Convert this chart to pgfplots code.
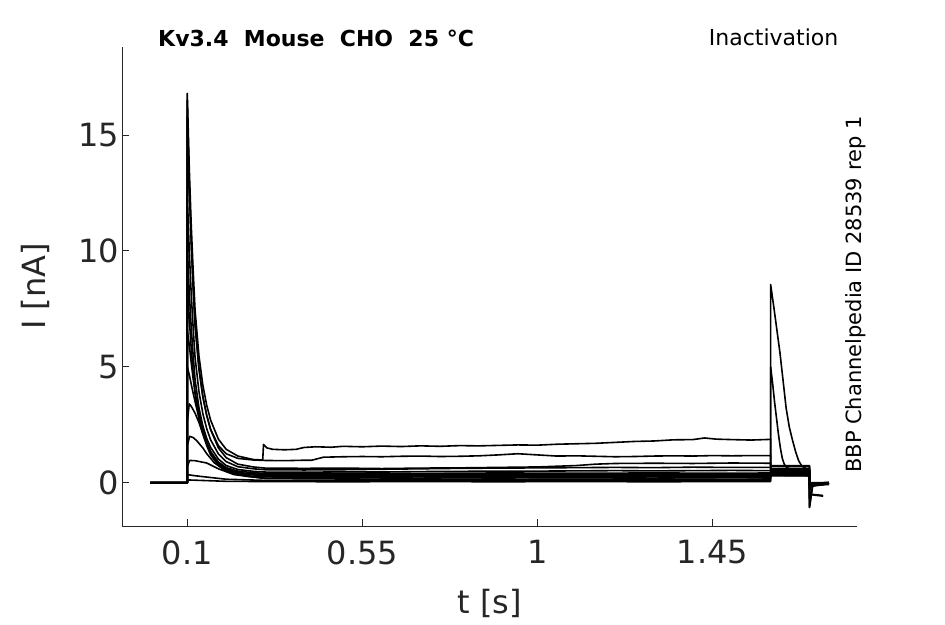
\documentclass[border=0pt]{standalone}
\usepackage{fontspec}
\setmainfont{DejaVu Sans}
\usepackage{pgfplots}
\pgfplotsset{compat=1.18}
\definecolor{axgray}{gray}{0.15}
\begin{document}
\begin{tikzpicture}[x=1pt,y=1pt]
\path[use as bounding box] (0,0) rectangle (945,624);
\begin{axis}[
  at={(122.3pt,98pt)}, anchor=south west, scale only axis,
  width=734.4pt, height=479pt,
  xmin=-0.0671, xmax=1.8213, ymin=-1.868, ymax=18.80,
  axis x line*=bottom, axis y line*=left,
  axis line style={-, draw=axgray, line width=1pt},
  tick align=inside, major tick length=7pt,
  tick style={axgray, line width=1pt},
  xtick={0.1,0.55,1,1.45}, ytick={0,5,10,15},
  minor tick num=0,
  /pgf/number format/assume math mode=true,
  ticklabel style={font=\fontsize{32}{38}\selectfont, text=axgray},
  xticklabel style={yshift=-11pt},
  xlabel={t [s]}, ylabel={I [nA]},
  label style={font=\fontsize{32}{38}\selectfont, text=axgray},
  xlabel style={at={(axis description cs:0.5,-0.1817)}, anchor=base},
  ylabel style={at={(axis description cs:-0.1048,0.5)}, anchor=base},
  every axis plot post/.append style={black, solid, line width=1.6pt, mark=none, line join=round},
  clip=false,
]
% T1
\addplot coordinates {(0.005,0)(0.1,0)(0.1,16.8)(0.105,13.63)(0.11,11.18)(0.115,9.20)(0.12,7.45)(0.13,5.47)(0.14,4.21)(0.15,3.34)(0.16,2.70)(0.18,1.88)(0.2,1.44)(0.23,1.15)(0.27,1.0)(0.294,0.98)(0.296,1.65)(0.305,1.5)(0.32,1.44)(0.35,1.42)(0.38,1.44)(0.4,1.52)(0.43,1.55)(0.47,1.53)(0.5,1.57)(0.55,1.55)(0.6,1.58)(0.65,1.56)(0.7,1.59)(0.75,1.57)(0.8,1.6)(0.85,1.59)(0.9,1.61)(0.95,1.63)(1.0,1.62)(1.05,1.66)(1.1,1.68)(1.15,1.7)(1.2,1.74)(1.25,1.78)(1.3,1.8)(1.35,1.85)(1.4,1.86)(1.43,1.93)(1.46,1.88)(1.5,1.86)(1.55,1.84)(1.6,1.87)(1.6,0.72)(1.65,0.7)(1.7,0.7)(1.7,-0.3)(1.706,-0.1)(1.75,-0.08)};
% T2
\addplot coordinates {(0.005,0)(0.1,0)(0.1,16.5)(0.105,12.9)(0.11,10.4)(0.115,8.4)(0.12,6.8)(0.13,4.9)(0.14,3.7)(0.15,2.9)(0.16,2.3)(0.18,1.6)(0.2,1.25)(0.23,1.05)(0.27,0.98)(0.3,0.96)(0.35,0.95)(0.4,0.97)(0.42,0.97)(0.45,1.1)(0.5,1.12)(0.55,1.13)(0.6,1.12)(0.65,1.14)(0.7,1.15)(0.75,1.13)(0.8,1.14)(0.85,1.16)(0.9,1.2)(0.95,1.25)(1.0,1.2)(1.05,1.15)(1.1,1.16)(1.15,1.14)(1.2,1.12)(1.25,1.13)(1.3,1.15)(1.35,1.16)(1.4,1.15)(1.45,1.17)(1.5,1.16)(1.55,1.17)(1.6,1.17)(1.6,0.62)(1.7,0.6)(1.7,-0.65)(1.705,-0.5)(1.735,-0.55)};
% T3
\addplot coordinates {(0.005,0)(0.1,0)(0.1,15.8)(0.105,12.76)(0.11,10.41)(0.115,8.51)(0.12,6.84)(0.13,4.95)(0.14,3.73)(0.15,2.90)(0.16,2.29)(0.18,1.50)(0.2,1.08)(0.23,0.80)(0.27,0.68)(0.3,0.63)(0.4,0.62)(0.5,0.63)(0.6,0.61)(0.7,0.63)(0.8,0.64)(0.9,0.66)(1.0,0.68)(1.1,0.74)(1.15,0.8)(1.2,0.83)(1.3,0.84)(1.4,0.83)(1.5,0.85)(1.6,0.84)(1.6,0.74)(1.7,0.73)(1.7,-0.2)(1.706,-0.05)(1.75,-0.03)};
% T4
\addplot coordinates {(0.005,0)(0.1,0)(0.1,12.4)(0.105,10.03)(0.11,8.19)(0.115,6.71)(0.12,5.41)(0.13,3.93)(0.14,2.98)(0.15,2.33)(0.16,1.85)(0.18,1.24)(0.2,0.91)(0.23,0.69)(0.27,0.6)(0.3,0.56)(0.4,0.55)(0.5,0.56)(0.6,0.58)(0.7,0.6)(0.8,0.62)(0.9,0.63)(1.0,0.64)(1.1,0.65)(1.2,0.66)(1.3,0.65)(1.4,0.67)(1.5,0.66)(1.6,0.66)(1.6,0.55)(1.7,0.55)(1.7,-0.7)(1.705,-0.52)(1.735,-0.58)};
% T5
\addplot coordinates {(0.005,0)(0.1,0)(0.1,10.2)(0.105,8.25)(0.11,6.74)(0.115,5.52)(0.12,4.45)(0.13,3.23)(0.14,2.45)(0.15,1.91)(0.16,1.52)(0.18,1.02)(0.2,0.74)(0.23,0.57)(0.27,0.49)(0.3,0.46)(0.4,0.45)(0.5,0.47)(0.6,0.46)(0.7,0.48)(0.8,0.49)(0.9,0.5)(1.0,0.5)(1.1,0.51)(1.2,0.52)(1.3,0.51)(1.4,0.52)(1.5,0.53)(1.6,0.52)(1.6,0.5)(1.7,0.48)(1.7,-0.25)(1.706,-0.05)(1.75,-0.02)};
% T6
\addplot coordinates {(0.005,0)(0.1,0)(0.1,8.8)(0.105,7.12)(0.11,5.82)(0.115,4.77)(0.12,3.84)(0.13,2.79)(0.14,2.12)(0.15,1.66)(0.16,1.32)(0.18,0.89)(0.2,0.65)(0.23,0.5)(0.27,0.43)(0.3,0.4)(0.5,0.41)(0.7,0.4)(0.9,0.42)(1.1,0.41)(1.3,0.42)(1.5,0.41)(1.6,0.42)(1.6,0.45)(1.7,0.45)(1.7,-0.2)(1.706,-0.02)(1.75,0)};
% T7
\addplot coordinates {(0.005,0)(0.1,0)(0.1,6.6)(0.104,6.1)(0.11,5.2)(0.115,4.5)(0.12,3.9)(0.13,3.0)(0.14,2.3)(0.15,1.75)(0.16,1.35)(0.18,0.85)(0.2,0.6)(0.25,0.4)(0.3,0.35)(0.5,0.36)(0.7,0.35)(0.9,0.37)(1.1,0.36)(1.3,0.37)(1.5,0.36)(1.6,0.36)(1.6,0.4)(1.7,0.4)(1.7,-0.15)(1.706,0)(1.75,0.01)};
% T8
\addplot coordinates {(0.005,0)(0.1,0)(0.1,5.0)(0.106,4.6)(0.112,4.1)(0.12,3.5)(0.13,2.8)(0.14,2.2)(0.15,1.7)(0.16,1.3)(0.18,0.8)(0.2,0.55)(0.25,0.36)(0.3,0.3)(0.5,0.31)(0.7,0.3)(0.9,0.32)(1.1,0.31)(1.3,0.3)(1.5,0.32)(1.6,0.31)(1.6,0.38)(1.7,0.37)(1.7,-0.1)(1.75,0)};
% T9
\addplot coordinates {(0.005,0)(0.1,0)(0.1,2.6)(0.105,3.4)(0.11,3.3)(0.12,3.0)(0.13,2.6)(0.14,2.1)(0.15,1.6)(0.16,1.2)(0.18,0.75)(0.2,0.5)(0.25,0.3)(0.3,0.25)(0.5,0.26)(0.7,0.25)(0.9,0.27)(1.1,0.26)(1.3,0.25)(1.5,0.27)(1.6,0.26)(1.6,0.35)(1.7,0.34)(1.7,-0.1)(1.75,-0.02)};
% T10
\addplot coordinates {(0.005,0)(0.1,0)(0.1,1.6)(0.106,2.0)(0.115,1.95)(0.125,1.8)(0.14,1.5)(0.15,1.25)(0.17,0.85)(0.2,0.5)(0.25,0.28)(0.3,0.2)(0.5,0.21)(0.7,0.2)(0.9,0.22)(1.1,0.21)(1.3,0.2)(1.5,0.22)(1.6,0.21)(1.6,0.32)(1.7,0.3)(1.7,-0.05)(1.75,0)};
% T11
\addplot coordinates {(0.005,0)(0.1,0)(0.1,0.7)(0.106,0.96)(0.12,0.95)(0.15,0.85)(0.18,0.6)(0.22,0.35)(0.3,0.18)(0.5,0.16)(0.7,0.15)(0.9,0.16)(1.1,0.15)(1.3,0.16)(1.5,0.15)(1.6,0.16)(1.6,0.3)(1.7,0.3)(1.7,-0.05)(1.75,0)};
% T12
\addplot coordinates {(0.005,0)(0.1,0)(0.1,0.35)(0.12,0.3)(0.2,0.15)(0.3,0.1)(0.5,0.1)(0.7,0.09)(0.9,0.1)(1.1,0.11)(1.3,0.1)(1.5,0.1)(1.6,0.1)(1.6,5.0)(1.605,4.3)(1.61,3.5)(1.615,2.8)(1.62,2.1)(1.625,1.5)(1.63,1.05)(1.635,0.8)(1.64,0.68)(1.65,0.58)(1.7,0.55)(1.7,-1.07)(1.704,-0.6)(1.708,-0.15)(1.75,-0.05)};
% T13
\addplot coordinates {(0.005,0)(0.1,0)(0.1,0.12)(0.2,0.06)(0.3,0.05)(0.5,0.04)(0.7,0.05)(0.9,0.04)(1.1,0.05)(1.3,0.04)(1.5,0.05)(1.6,0.05)(1.6,8.55)(1.608,7.6)(1.616,6.6)(1.624,5.6)(1.632,4.4)(1.64,3.2)(1.648,2.4)(1.656,1.85)(1.664,1.35)(1.672,0.95)(1.68,0.72)(1.69,0.62)(1.7,0.58)(1.7,-1.05)(1.704,-0.55)(1.708,-0.1)(1.75,-0.05)};
\end{axis}
\node[anchor=base west, inner sep=0, font=\fontsize{22}{26}\selectfont\bfseries] at (158,577.3) {Kv3.4~~Mouse~~CHO~~25~°C};
\node[anchor=base east, inner sep=0, font=\fontsize{22}{26}\selectfont] at (838.5,578) {Inactivation};
\node[anchor=base west, inner sep=0, rotate=90, font=\fontsize{21}{25}\selectfont] at (861,151) {BBP Channelpedia ID 28539 rep 1};
\end{tikzpicture}
\end{document}
